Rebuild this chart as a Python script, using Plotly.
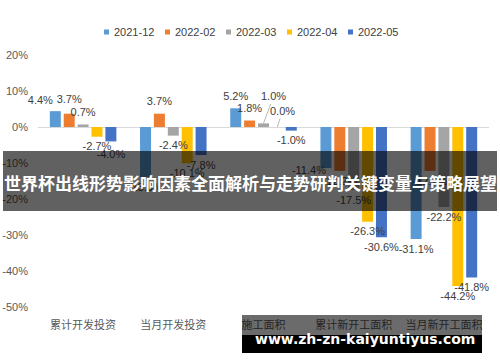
import plotly.graph_objects as go

# ---------------- data ----------------
categories = ["累计开发投资", "当月开发投资", "施工面积", "累计新开工面积", "当月新开工面积"]
series_names = ["2021-12", "2022-02", "2022-03", "2022-04", "2022-05"]
v_2021_12 = [4.4, -13.9, 5.2, -11.4, -31.1]
v_2022_02 = [3.7, 3.7, 1.8, -12.2, -12.2]
v_2022_03 = [0.7, -2.4, 1.0, -17.5, -22.2]
v_2022_04 = [-2.7, -10.1, 0.0, -26.3, -44.2]
v_2022_05 = [-4.0, -7.8, -1.0, -30.6, -41.8]
y_ticks = [20, 10, 0, -10, -20, -30, -40, -50]
y_tick_labels = ["20%", "10%", "0%", "-10%", "-20%", "-30%", "-40%", "-50%"]
banner_text = "世界杯出线形势影响因素全面解析与走势研判关键变量与策略展望"
watermark_text = "www.zh-zn-kaiyuntiyus.com"

series_values = [v_2021_12, v_2022_02, v_2022_03, v_2022_04, v_2022_05]

# ---------------- style ----------------
colors = ["#5B9BD5", "#ED7D31", "#A5A5A5", "#FFC000", "#4472C4"]
W, H = 500, 362
ML, MR, MT, MB = 38, 11, 55, 55
PW, PH = W - ML - MR, H - MT - MB
Y_RANGE = [-50, 20]
X_RANGE = [-0.5, len(categories) - 0.5]
BARGAP, BARGROUPGAP = 0.23, 0.21
LABEL_FONT = dict(family="Liberation Sans, Arial", size=11, color="#404040")
AXIS_FONT = dict(family="Liberation Sans, Arial", size=11, color="#595959")
CAT_FONT = dict(family="Noto Sans CJK SC", size=11, color="#595959")

# label pixel offsets (dx, dy) overrides; dy positive = up
label_shift = {(0, 0): (-15, 10), (1, 0): (0, 13), (4, 0): (0, -14),
               (0, 3): (-17, -3)}
arrow_labels = {(2, 2): (10, -27), (3, 2): (5, -16)}


def px_x(px):
    return (px - ML) / PW


def px_y(py):
    return (H - MB - py) / PH


x_per_px = (X_RANGE[1] - X_RANGE[0]) / PW
y_per_px = (Y_RANGE[1] - Y_RANGE[0]) / PH
n = len(series_names)
gw = 1 - BARGAP


def bar_center(i, j):
    return j - gw / 2 + (i + 0.5) * gw / n


fig = go.Figure()
for i, (name, vals) in enumerate(zip(series_names, series_values)):
    fig.add_trace(go.Bar(x=list(range(len(categories))), y=vals, name=name,
                         marker=dict(color=colors[i], line=dict(width=0)),
                         showlegend=False, hoverinfo="skip"))

# data labels as a text trace (kept below the overlay banner)
lx, ly, lt = [], [], []
annotations = []
for i, vals in enumerate(series_values):
    for j, v in enumerate(vals):
        txt = f"{v:.1f}%"
        if (i, j) in arrow_labels:
            ax, ay = arrow_labels[(i, j)]
            annotations.append(dict(x=bar_center(i, j), y=v, xref="x", yref="y",
                                    text=txt, showarrow=True, arrowhead=0,
                                    arrowwidth=0.8, arrowcolor="#A6A6A6",
                                    ax=ax, ay=ay, standoff=0, font=LABEL_FONT))
            continue
        dx, dy = label_shift.get((i, j), (0, 11 if v > 0 else -11))
        lx.append(bar_center(i, j) + dx * x_per_px)
        ly.append(v + dy * y_per_px)
        lt.append(txt)
fig.add_trace(go.Scatter(x=lx, y=ly, text=lt, mode="text",
                         textposition="middle center", textfont=LABEL_FONT,
                         showlegend=False, hoverinfo="skip", cliponaxis=False))

# custom legend
for i, name in enumerate(series_names):
    sx = 104 + i * 61
    fig.add_shape(type="rect", xref="paper", yref="paper",
                  x0=px_x(sx), x1=px_x(sx + 5), y0=px_y(34.5), y1=px_y(29.5),
                  fillcolor=colors[i], line=dict(width=0))
    annotations.append(dict(x=px_x(sx + 7.5), y=px_y(32), xref="paper", yref="paper",
                            text=name, showarrow=False, xanchor="left",
                            yanchor="middle", font=dict(family="Liberation Sans, Arial",
                                                        size=11, color="#404040")))

# overlay banner
fig.add_shape(type="rect", xref="paper", yref="paper", layer="above",
              x0=px_x(3), x1=px_x(497), y0=px_y(211), y1=px_y(151),
              fillcolor="rgba(0,0,0,0.62)", line=dict(width=0))
annotations.append(dict(x=px_x(250), y=px_y(182), xref="paper", yref="paper",
                        text=f"<b>{banner_text}</b>", showarrow=False,
                        xanchor="center", yanchor="middle",
                        font=dict(family="Noto Sans CJK SC", size=17, color="white")))

# watermark box
fig.add_shape(type="rect", xref="paper", yref="paper", layer="above",
              x0=px_x(242), x1=px_x(482), y0=px_y(335), y1=px_y(315),
              fillcolor="rgba(0,0,0,0.58)", line=dict(width=0))
fig.add_shape(type="rect", xref="paper", yref="paper", layer="above",
              x0=px_x(242), x1=px_x(482), y0=px_y(353), y1=px_y(335),
              fillcolor="black", line=dict(width=0))
annotations.append(dict(x=px_x(365), y=px_y(339), xref="paper", yref="paper",
                        text=f"<b>{watermark_text}</b>", showarrow=False,
                        xanchor="center", yanchor="middle",
                        font=dict(family="DejaVu Sans", size=14, color="white")))

fig.update_layout(
    width=W, height=H, margin=dict(l=ML, r=MR, t=MT, b=MB, pad=0, autoexpand=False),
    paper_bgcolor="white", plot_bgcolor="white",
    barmode="group", bargap=BARGAP, bargroupgap=BARGROUPGAP,
    annotations=annotations, showlegend=False,
    xaxis=dict(range=X_RANGE, tickvals=list(range(len(categories))),
               ticktext=categories, showgrid=False, zeroline=False,
               showline=False, ticks="", tickfont=CAT_FONT, automargin=False,
               ticklabelstandoff=10, fixedrange=True),
    yaxis=dict(range=Y_RANGE, tickvals=y_ticks, ticktext=y_tick_labels,
               showgrid=False, zeroline=True, zerolinecolor="#D9D9D9",
               zerolinewidth=1, showline=False, ticks="", tickfont=AXIS_FONT,
               automargin=False, ticklabelstandoff=9, fixedrange=True),
)

fig.write_html("out.html")
